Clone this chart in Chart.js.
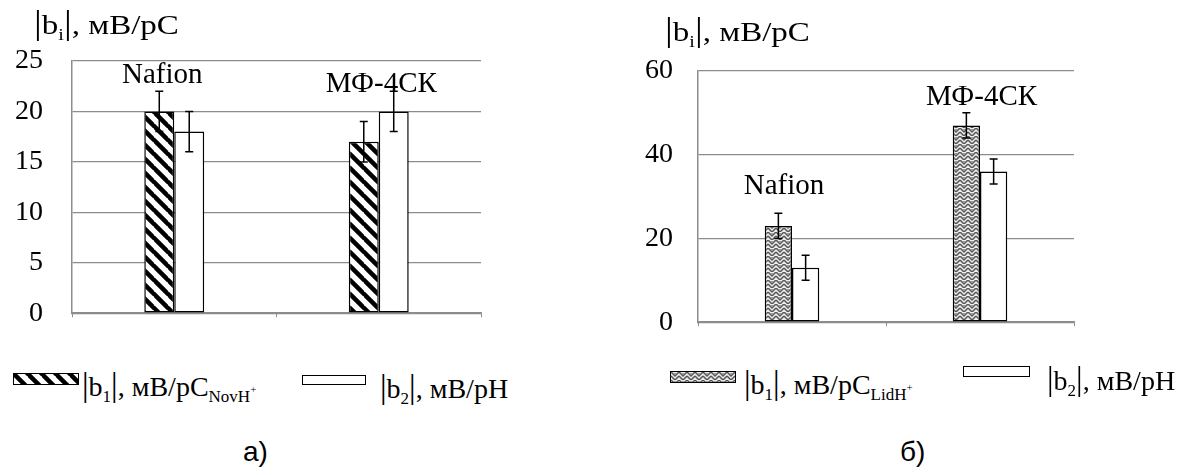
<!DOCTYPE html>
<html>
<head>
<meta charset="utf-8">
<script src="https://cdn.jsdelivr.net/npm/chart.js@4.4.0/dist/chart.umd.min.js"></script>
<style>
  body { margin: 0; background: #fff; width: 1197px; height: 475px; position: relative; overflow: hidden;
         font-family: "Liberation Serif", "Times New Roman", serif; color: #000; }
  canvas.chart { position: absolute; top: 0; }
  .lab { position: absolute; font-size: 28px; line-height: 28px; white-space: nowrap; }
  .ttl { transform: scaleX(1.18); transform-origin: 0 0; }
  .ab { font-size: 33px; line-height: 0; }
  .lab sub { font-size: 17px; line-height: 0; vertical-align: -6px; }
  .lab sub sup { font-size: 11px; vertical-align: 9px; }
  .cap { position: absolute; font-family: "Liberation Sans", Arial, sans-serif; font-size: 28px; line-height: 28px; }
  .sw { position: absolute; border: 1.5px solid #000; box-sizing: border-box; }
</style>
</head>
<body>

<canvas class="chart" id="chartA" width="530" height="359" style="left:0"></canvas>
<canvas class="chart" id="chartB" width="597" height="364" style="left:600px"></canvas>

<!-- axis titles -->
<div class="lab ttl" style="left:34px;top:11px"><span class="ab">|</span>b<sub>i</sub><span class="ab">|</span>, мВ/pC</div>
<div class="lab ttl" style="left:665px;top:18px"><span class="ab">|</span>b<sub>i</sub><span class="ab">|</span>, мВ/pC</div>

<!-- legends -->
<canvas class="sw" id="swA1" width="64" height="10" style="left:13px;top:373px"></canvas>
<div class="lab" style="left:82px;top:373px"><span class="ab">|</span>b<sub>1</sub><span class="ab">|</span>, мВ/pC<sub>NovH<sup>+</sup></sub></div>
<div class="sw" style="left:302px;top:375px;width:64px;height:10px"></div>
<div class="lab" style="left:380px;top:375px"><span class="ab">|</span>b<sub>2</sub><span class="ab">|</span>, мВ/pH</div>

<canvas class="sw" id="swB1" width="64" height="10" style="left:670px;top:371px"></canvas>
<div class="lab" style="left:744px;top:371px"><span class="ab">|</span>b<sub>1</sub><span class="ab">|</span>, мВ/pC<sub>LidH<sup>+</sup></sub></div>
<div class="sw" style="left:963px;top:366px;width:67px;height:11px"></div>
<div class="lab" style="left:1047px;top:367px"><span class="ab">|</span>b<sub>2</sub><span class="ab">|</span>, мВ/pH</div>

<!-- panel captions -->
<div class="cap" style="left:243px;top:438px">а)</div>
<div class="cap" style="left:900px;top:438px">б)</div>

<script>
// ---- data ----
const categories = ["Nafion", "МФ-4СК"];

// a) NovH+
const novB1 = [20, 17];
const novB1Err = [2, 2];
const novB2 = [18, 20];
const novB2Err = [2, 2];
const novTicks = [0, 5, 10, 15, 20, 25];

// б) LidH+
const lidB1 = [23, 47];
const lidB1Err = [3, 3];
const lidB2 = [13, 36];
const lidB2Err = [3, 3];
const lidTicks = [0, 20, 40, 60];

const GRID = "#8c8c8c";
const SERIF = '"Liberation Serif", "Times New Roman", serif';

// diagonal black hatching (top-left to bottom-right)
function hatchPattern() {
  const s = 14;
  const c = document.createElement("canvas");
  c.width = s; c.height = s;
  const g = c.getContext("2d");
  g.fillStyle = "#fff";
  g.fillRect(0, 0, s, s);
  g.strokeStyle = "#000";
  g.lineWidth = 4.5;
  g.beginPath();
  for (let k = -1; k <= 1; k++) {
    g.moveTo(-1, k * s - 1);
    g.lineTo(s + 1, s + k * s + 1);
  }
  g.stroke();
  return g.createPattern(c, "repeat");
}

// grey woven (chevron) texture
function weavePattern() {
  const s = 8;
  const c = document.createElement("canvas");
  c.width = s; c.height = s;
  const g = c.getContext("2d");
  g.fillStyle = "#ececec";
  g.fillRect(0, 0, s, s);
  g.strokeStyle = "#555";
  g.lineWidth = 1.5;
  g.beginPath();
  g.moveTo(0, 0); g.lineTo(4, 4); g.lineTo(8, 0);
  g.moveTo(0, 4); g.lineTo(4, 8); g.lineTo(8, 4);
  g.stroke();
  g.fillStyle = "#999";
  g.fillRect(3, 1, 2, 1);
  g.fillRect(7, 5, 1, 1);
  g.fillRect(0, 5, 1, 1);
  return g.createPattern(c, "repeat");
}

const hatch = hatchPattern();
const weave = weavePattern();

function fillSwatch(id, pat) {
  const c = document.getElementById(id);
  const g = c.getContext("2d");
  g.fillStyle = pat;
  g.fillRect(0, 0, c.width, c.height);
}
fillSwatch("swA1", hatch);
fillSwatch("swB1", weave);

// error bars drawn from the dataset "errors" arrays
const errorBars = {
  id: "errorBars",
  afterDatasetsDraw(chart) {
    const ctx = chart.ctx;
    const y = chart.scales.y;
    chart.data.datasets.forEach((ds, i) => {
      chart.getDatasetMeta(i).data.forEach((bar, j) => {
        const v = ds.data[j], e = ds.errors[j];
        const top = y.getPixelForValue(v + e);
        const bot = y.getPixelForValue(v - e);
        ctx.save();
        ctx.strokeStyle = "#000";
        ctx.lineWidth = 1.5;
        ctx.beginPath();
        ctx.moveTo(bar.x, top); ctx.lineTo(bar.x, bot);
        ctx.moveTo(bar.x - 4, top); ctx.lineTo(bar.x + 4, top);
        ctx.moveTo(bar.x - 4, bot); ctx.lineTo(bar.x + 4, bot);
        ctx.stroke();
        ctx.restore();
      });
    });
  }
};

// membrane names written above each group
const groupLabels = {
  id: "groupLabels",
  afterDraw(chart, args, opts) {
    const ctx = chart.ctx;
    ctx.save();
    ctx.font = "29px " + SERIF;
    ctx.fillStyle = "#000";
    ctx.textAlign = "center";
    ctx.textBaseline = "alphabetic";
    chart.data.labels.forEach((name, i) => {
      const x = chart.scales.x.getPixelForValue(i) + opts.dx[i];
      const y = chart.scales.y.getPixelForValue(opts.at[i]);
      ctx.fillText(name, x, y);
    });
    ctx.restore();
  }
};

function makeChart(id, cfg) {
  return new Chart(document.getElementById(id), {
    type: "bar",
    data: {
      labels: categories,
      datasets: [
        {
          data: cfg.b1, errors: cfg.b1Err,
          backgroundColor: cfg.pattern, borderColor: "#000", borderWidth: 1.5, borderSkipped: false,
          categoryPercentage: cfg.group, barPercentage: 1
        },
        {
          data: cfg.b2, errors: cfg.b2Err,
          backgroundColor: "#fff", borderColor: "#000", borderWidth: 1.5, borderSkipped: false,
          categoryPercentage: cfg.group, barPercentage: 1
        }
      ]
    },
    options: {
      responsive: false,
      animation: false,
      // the bottom of the plot is set by the y tick padding (label half height + padding)
      layout: { padding: { top: cfg.top, right: cfg.right, left: 0, bottom: 0 } },
      plugins: {
        legend: { display: false },
        tooltip: { enabled: false },
        groupLabels: { dx: cfg.labelDx, at: cfg.labelAt }
      },
      scales: {
        x: {
          ticks: { display: false },
          grid: { display: true, offset: true, drawOnChartArea: false, drawTicks: true, tickLength: 4, color: GRID },
          border: { display: true, color: GRID, width: 1.5 }
        },
        y: {
          min: cfg.ticks[0],
          max: cfg.ticks[cfg.ticks.length - 1],
          afterFit: (s) => { s.width = cfg.yw; },
          afterBuildTicks: (s) => { s.ticks = cfg.ticks.map((v) => ({ value: v })); },
          ticks: { color: "#000", padding: cfg.pad, font: { family: SERIF, size: 28 } },
          grid: { color: GRID, lineWidth: 1.2, drawTicks: false },
          border: { display: true, color: GRID, width: 1.5 }
        }
      }
    },
    plugins: [errorBars, groupLabels]
  });
}

makeChart("chartA", {
  b1: novB1, b1Err: novB1Err, b2: novB2, b2Err: novB2Err,
  pattern: hatch, ticks: novTicks, group: 0.293,
  top: 61, right: 49, yw: 72, pad: 29,
  labelDx: [-12, 2.5], labelAt: [22.8, 21.95]
});

makeChart("chartB", {
  b1: lidB1, b1Err: lidB1Err, b2: lidB2, b2Err: lidB2Err,
  pattern: weave, ticks: lidTicks, group: 0.29,
  top: 71, right: 123, yw: 98, pad: 25,
  labelDx: [-8, 1.5], labelAt: [30.6, 51.9]
});
</script>
</body>
</html>
